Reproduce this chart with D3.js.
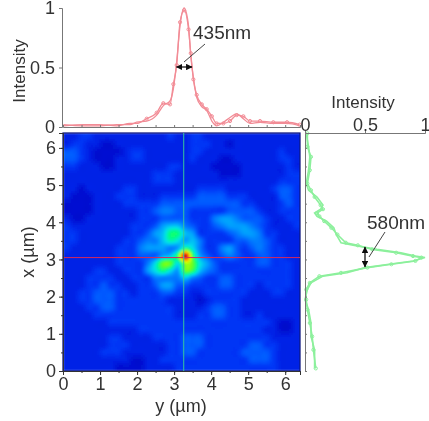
<!DOCTYPE html>
<html><head><meta charset="utf-8">
<script src="https://cdn.jsdelivr.net/npm/d3@7"></script>
<style>html,body{margin:0;padding:0;background:#fff}svg{display:block}text{font-family:"Liberation Sans",Arial,sans-serif;fill:#333}</style>
</head><body><svg id="c" width="429" height="421"></svg>
<script>
const topTicks=[0,0.5,1], sideTicks=[0,0.5,1], xTicks=[0,1,2,3,4,5,6];
const yHorizontal=[0.01,0.55,1.0,1.45,1.81,1.99,2.26,2.53,2.71,2.89,2.98,3.07,3.16,3.27,3.39,3.45,3.52,3.61,3.75,3.88,4.02,4.15,4.33,4.51,4.69,4.87,5.05,5.32,5.68,6.05,6.39];
const intensityH=[0.02,0.01,0.01,0.02,0.02,0.04,0.05,0.1,0.18,0.22,0.32,0.55,0.85,1,0.85,0.6,0.42,0.25,0.17,0.14,0.05,0.01,0.04,0.08,0.11,0.07,0.03,0.04,0.03,0.03,0.01];
const intensityH2=[0.01,0.02,0.02,0.01,0.03,0.03,0.07,0.12,0.2,0.19,0.36,0.52,0.88,0.98,0.82,0.62,0.4,0.27,0.19,0.15,0.09,0.03,0.03,0.05,0.1,0.09,0.05,0.05,0.04,0.04,0.02];
const xVertical=[6.39,6.03,5.76,5.4,5.04,4.86,4.68,4.46,4.35,4.25,4.16,4.03,3.85,3.67,3.45,3.38,3.27,3.18,3.09,3.05,2.96,2.87,2.78,2.64,2.55,2.37,2.19,1.92,1.65,1.29,0.93,0.57,0.07];
const intensityV=[0.01,0.03,0.04,0.03,0.01,0.03,0.1,0.15,0.13,0.08,0.1,0.18,0.24,0.26,0.3,0.4,0.6,0.8,0.92,1,0.9,0.7,0.5,0.35,0.15,0.05,0.02,0,0.03,0.05,0.05,0.08,0.08];
const intensityV2=[0.02,0.02,0.05,0.04,0.02,0.05,0.08,0.13,0.15,0.1,0.12,0.16,0.22,0.27,0.34,0.44,0.56,0.76,0.9,0.97,0.92,0.72,0.52,0.3,0.12,0.04,0.01,0.01,0.02,0.04,0.06,0.07,0.09];
const heatLevels=[
[2,2,3,3,2,2,2,2,2,2,2,2,2,2,3,2,2,3,3,2,2,2,2,2,2,2,2,2,2,2,2,2],
[2,3,3,2,2,1,1,2,2,2,2,2,2,2,2,2,2,3,3,3,2,2,1,2,2,2,2,2,2,2,2,2],
[4,4,3,2,1,1,1,1,2,3,3,2,2,2,2,2,2,3,3,2,2,2,2,2,2,2,2,2,2,3,2,2],
[4,4,3,2,1,1,1,2,2,3,3,2,2,2,2,2,2,3,2,2,2,1,1,2,2,2,2,2,2,3,3,2],
[3,3,2,2,2,1,1,2,2,2,2,2,2,2,3,3,2,2,2,2,1,1,1,1,2,2,2,2,2,2,3,2],
[2,2,2,2,2,2,2,2,2,2,2,2,3,3,3,2,2,2,2,2,2,1,1,1,2,2,2,2,2,2,3,3],
[2,2,2,2,2,2,2,2,2,2,2,2,3,3,3,2,2,2,2,2,2,2,2,2,2,2,2,2,2,3,3,3],
[2,2,1,2,2,2,2,2,3,3,2,2,2,2,2,2,2,2,3,3,3,3,2,2,2,2,2,2,3,4,4,3],
[2,1,1,1,2,2,2,3,3,3,2,2,2,3,3,3,3,3,4,4,4,4,3,3,3,2,2,2,2,4,4,3],
[1,1,1,1,2,2,2,2,3,3,3,3,3,4,4,4,4,4,4,4,4,4,4,4,3,3,2,2,2,3,4,3],
[1,1,1,1,2,2,2,2,2,2,3,3,4,5,5,4,4,3,3,3,3,3,4,4,4,4,3,2,2,3,3,3],
[2,1,1,2,2,2,2,2,2,2,3,3,3,4,4,4,4,3,3,3,5,6,6,5,4,4,4,3,2,2,3,3],
[3,2,2,2,2,2,2,2,2,3,3,3,4,6,7,7,5,4,3,3,4,5,6,6,6,5,4,3,2,2,2,3],
[3,3,2,2,2,2,2,2,2,3,3,4,6,7,10,10,7,6,3,3,3,3,4,5,6,6,5,3,3,2,2,2],
[3,3,2,2,2,2,2,2,3,3,4,5,5,7,9,8,6,7,5,3,3,3,3,4,4,5,5,4,3,2,2,2],
[3,2,2,2,2,2,2,3,3,3,5,6,6,6,5,6,10,8,5,3,3,5,6,4,3,4,5,4,3,3,2,2],
[2,2,2,2,2,2,2,3,3,3,4,4,4,6,7,11,20,11,6,4,3,4,5,4,3,3,4,4,3,3,2,2],
[2,2,2,2,2,2,2,3,3,3,3,5,8,12,12,8,13,12,8,6,4,3,3,3,3,3,4,4,3,3,3,2],
[2,2,2,2,3,3,2,2,3,3,3,6,8,10,8,6,12,11,7,5,4,3,3,3,3,3,3,3,3,3,3,2],
[2,2,2,3,3,3,3,2,2,3,3,3,5,5,5,5,7,5,4,3,3,4,4,3,3,3,3,3,3,3,3,2],
[2,2,2,3,3,4,3,3,2,2,3,3,4,6,6,4,4,3,3,3,3,4,4,3,3,3,2,3,3,3,3,2],
[2,2,3,3,4,4,4,3,3,2,3,3,3,4,4,3,3,2,2,3,3,3,3,3,3,2,2,2,3,3,2,2],
[2,2,3,3,4,4,4,3,3,3,3,3,3,3,2,2,2,2,1,2,3,3,3,3,2,2,2,2,2,2,2,2],
[2,2,2,3,3,4,4,3,3,3,3,3,3,3,3,2,2,2,2,3,4,4,3,3,2,2,2,2,2,2,2,2],
[2,2,2,2,3,3,3,3,3,3,3,3,3,3,3,2,2,2,3,3,4,4,3,3,2,2,3,2,2,2,2,2],
[2,2,2,2,2,2,3,3,3,3,3,3,3,3,3,3,3,3,3,3,3,3,3,3,3,3,3,3,2,1,1,2],
[2,2,2,2,2,2,2,2,2,2,3,3,3,3,3,3,3,3,3,3,3,3,3,3,3,3,3,2,2,1,1,2],
[2,2,2,2,2,2,3,3,2,2,2,2,3,3,3,3,4,4,4,3,3,3,3,3,3,3,3,3,2,2,2,2],
[2,2,2,2,2,2,3,3,3,2,2,2,2,2,3,3,4,4,4,3,3,3,3,3,3,4,4,3,3,2,2,2],
[2,2,2,2,2,3,3,3,2,2,2,2,2,2,3,3,4,4,3,3,3,3,3,3,4,4,4,4,3,2,2,2],
[2,2,2,2,2,2,2,2,2,1,1,2,2,3,3,3,3,3,3,3,3,3,3,3,3,4,4,4,3,2,2,2],
[2,2,2,2,2,2,2,1,1,1,1,2,2,2,2,3,3,3,3,3,3,3,3,3,3,3,3,3,3,2,2,2]];
const heatStops=[0,1,2,3,4,6,8,10,12,14,16,18,20];
const heatColors=["#0000b4","#0010d2","#0022e6","#0034f5","#0058ff","#009cff","#00e4e8","#00ff80","#60ff20","#e0ff00","#ffa000","#ff2000","#c00020"];

const W=237,H=238,L=63,T=133;
const svg=d3.select("#c");
const defs=svg.append("defs");
defs.append("clipPath").attr("id","pc").append("rect").attr("x",L).attr("y",T).attr("width",W).attr("height",H);
defs.append("filter").attr("id","bl").attr("x","-5%").attr("y","-5%").attr("width","110%").attr("height","110%")
  .append("feGaussianBlur").attr("stdDeviation",0.8);
defs.append("filter").attr("id","soft").append("feGaussianBlur").attr("stdDeviation",0.35);

const x=d3.scaleLinear().domain([0,6.4]).range([L,L+W]);
const y=d3.scaleLinear().domain([0,6.4]).range([T+H,T]);
const yI=d3.scaleLinear().domain([0,1]).range([127,8]);
const xI=d3.scaleLinear().domain([0,1]).range([305,425]);
const color=d3.scaleLinear().domain(heatStops).range(heatColors).clamp(true);

// heat map: sampled smoothly between the read grid values
const rows=heatLevels.length, cols=heatLevels[0].length;
const at=(r,c)=>heatLevels[Math.max(0,Math.min(rows-1,r))][Math.max(0,Math.min(cols-1,c))];
const cr=(a,b,c,d,t)=>0.5*(2*b+(c-a)*t+(2*a-5*b+4*c-d)*t*t+(3*b-a-3*c+d)*t*t*t);
function sample(rf,cf){
  const r=Math.floor(rf),c=Math.floor(cf),tr=rf-r,tc=cf-c;
  const q=[-1,0,1,2].map(i=>cr(at(r+i,c-1),at(r+i,c),at(r+i,c+1),at(r+i,c+2),tc));
  return cr(q[0],q[1],q[2],q[3],tr);
}
const step=2, fine=[];
for(let py=T;py<T+H;py+=step)for(let px=L;px<L+W;px+=step){
  fine.push({px,py,v:sample((py+1-T)/H*rows-0.5,(px+1-L)/W*cols-0.5)});
}
const root=svg.append("g");
const hm=root.append("g").attr("clip-path","url(#pc)").append("g").attr("filter","url(#bl)");
hm.selectAll("rect").data(fine).join("rect").attr("x",d=>d.px).attr("y",d=>d.py).attr("width",step+0.3).attr("height",step+0.3).attr("fill",d=>color(d.v)).attr("shape-rendering","crispEdges");
root.append("rect").attr("x",L).attr("y",T).attr("width",W).attr("height",H).attr("fill","none").attr("stroke","#000a78").attr("stroke-width",1.2);
// cross hairs
root.append("line").attr("x1",L).attr("x2",L+W).attr("y1",y(3.05)).attr("y2",y(3.05)).attr("stroke","#d8285a").attr("stroke-width",1);
root.append("line").attr("x1",x(3.26)).attr("x2",x(3.26)).attr("y1",T).attr("y2",T+H).attr("stroke","#35c89a").attr("stroke-width",1);

const over=svg.append("g").attr("filter","url(#soft)");
// profile curves
const redCol="#f28c96", grnCol="#8cf09c";
const lineH=d3.line().x(d=>x(d[0])).y(d=>yI(d[1])).curve(d3.curveMonotoneX);
const lineV=d3.line().x(d=>xI(d[1])).y(d=>y(d[0]));
const H1=d3.zip(yHorizontal,intensityH), H2=d3.zip(yHorizontal,intensityH2);
const V1=d3.zip(xVertical,intensityV), V2=d3.zip(xVertical,intensityV2);
[H1,H2].forEach(s=>over.append("path").attr("d",lineH(s)).attr("fill","none").attr("stroke",redCol).attr("stroke-width",1.3));
[V1,V2].forEach(s=>over.append("path").attr("d",lineV(s)).attr("fill","none").attr("stroke",grnCol).attr("stroke-width",1.6));
over.selectAll(null).data(H2.filter(d=>d[0]>2)).join("circle").attr("cx",d=>x(d[0])).attr("cy",d=>yI(d[1])).attr("r",1.6).attr("fill","none").attr("stroke",redCol);
over.selectAll(null).data(V2).join("circle").attr("cx",d=>xI(d[1])).attr("cy",d=>y(d[0])).attr("r",1.6).attr("fill","none").attr("stroke",grnCol);

// axes
function style(g,col){g.selectAll("path,line").attr("stroke",col).attr("stroke-width",1);g.selectAll("text").attr("font-size",18).attr("fill","#333").attr("fill-opacity",1);}
const gridX=d3.range(0,6.5,0.5);
over.append("g").attr("transform","translate(62,0)").call(d3.axisLeft(yI).tickValues(topTicks).tickFormat(d3.format("~g")).tickSize(3).tickPadding(4)).call(style,"#777");
over.append("g").attr("transform","translate(0,127)").call(d3.axisTop(x).tickValues(gridX).tickFormat("").tickSize(2)).call(style,"#777");
over.append("g").attr("transform","translate(0,133)").call(d3.axisTop(xI).tickValues(sideTicks).tickFormat(d3.format("~g")).tickSize(2).tickPadding(0)).call(style,"#777");
over.append("g").attr("transform","translate(305,0)").call(d3.axisRight(y).tickValues(gridX).tickFormat("").tickSize(2)).call(style,"#777");
over.append("g").attr("transform",`translate(0,${T+H})`).call(d3.axisBottom(x).tickValues(xTicks).tickFormat(d3.format("d")).tickSize(4).tickPadding(2)).call(style,"#333");
over.append("g").attr("transform",`translate(0,${T+H})`).call(d3.axisBottom(x).tickValues(gridX).tickFormat("").tickSize(2)).call(style,"#333");
over.append("g").attr("transform",`translate(${L},0)`).call(d3.axisLeft(y).tickValues(xTicks).tickFormat(d3.format("d")).tickSize(4).tickPadding(3)).call(style,"#333");
over.append("g").attr("transform",`translate(${L},0)`).call(d3.axisLeft(y).tickValues(gridX).tickFormat("").tickSize(2)).call(style,"#333");

// labels
const lab=(t,px,py,a,s,rot)=>over.append("text").text(t).attr("text-anchor",a||"middle").attr("font-size",s||18)
  .attr("transform",`translate(${px},${py})`+(rot?` rotate(${rot})`:""));
lab("Intensity",25,71,"middle",17,-90);
lab("x (µm)",34,252,"middle",18,-90);
lab("y (µm)",181,412,"middle",18);
lab("Intensity",363,108,"middle",17);
lab("435nm",193,39,"start",19);
lab("580nm",367,229,"start",19);

// width markers
defs.append("marker").attr("id","ah").attr("viewBox","0 0 6 6").attr("refX",5.5).attr("refY",3).attr("markerWidth",5).attr("markerHeight",5).attr("orient","auto-start-reverse")
  .append("path").attr("d","M0,0L6,3L0,6Z").attr("fill","#111");
const arrow=(a,b,c,d)=>over.append("line").attr("x1",a).attr("y1",b).attr("x2",c).attr("y2",d).attr("stroke","#111").attr("stroke-width",1.3).attr("marker-start","url(#ah)").attr("marker-end","url(#ah)");
const lead=(a,b,c,d)=>over.append("line").attr("x1",a).attr("y1",b).attr("x2",c).attr("y2",d).attr("stroke","#444").attr("stroke-width",1);
arrow(176.5,67,192,67); lead(184,62,205,44);
arrow(365,247,365,267); lead(369,257,385,232);
</script></body></html>
